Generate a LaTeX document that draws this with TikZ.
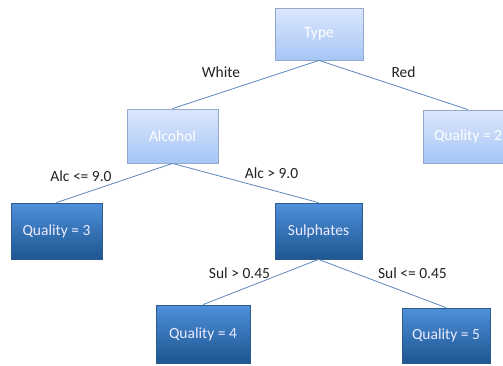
\documentclass[tikz,border=0pt]{standalone}
\usepackage{fontspec}
\setmainfont{Carlito}
\usetikzlibrary{shadings}
\definecolor{lighttop}{HTML}{DCE6FB}
\definecolor{lightbot}{HTML}{A6C6F6}
\definecolor{lightline}{HTML}{93A9CC}
\definecolor{darktop}{HTML}{4E90DB}
\definecolor{darkbot}{HTML}{1D5690}
\definecolor{darkline}{HTML}{2E5B8C}
\definecolor{edgecol}{HTML}{5E88BA}
\definecolor{labelcol}{HTML}{222222}
\tikzset{
  lightbox/.style={draw=lightline, line width=0.8pt, top color=lighttop, bottom color=lightbot,
    text=white, font=\fontsize{15.5}{18}\selectfont, inner sep=0pt},
  darkbox/.style={draw=darkline, line width=0.8pt, top color=darktop, bottom color=darkbot,
    text=white!92!blue, font=\fontsize{15.5}{18}\selectfont, inner sep=0pt},
  edge/.style={draw=edgecol, line width=0.8pt},
  elabel/.style={text=labelcol, font=\fontsize{15.5}{18}\selectfont, inner sep=0pt}
}
\begin{document}
\begin{tikzpicture}[x=1pt, y=-1pt]
  \clip (0,0) rectangle (503,365);
  \fill[white] (0,0) rectangle (503,365);
  % decision nodes and leaves
  \node[lightbox, minimum width=88pt, minimum height=52pt] (type) at (319,34) {Type};
  \node[lightbox, minimum width=91pt, minimum height=54pt] (alcohol) at (172.5,136) {Alcohol};
  \node[lightbox, minimum width=90pt, minimum height=53pt] (q2) at (468,136.5) {Quality = 2};
  \node[darkbox, minimum width=91pt, minimum height=56pt] (q3) at (56.5,231) {Quality = 3};
  \node[darkbox, minimum width=87pt, minimum height=56pt] (sulph) at (318.5,231) {Sulphates};
  \node[darkbox, minimum width=94pt, minimum height=58pt] (q4) at (203,334) {Quality = 4};
  \node[darkbox, minimum width=88pt, minimum height=55pt] (q5) at (446,335.5) {Quality = 5};
  % branches
  \draw[edge] (type.south) -- (alcohol.north);
  \draw[edge] (type.south) -- (q2.north);
  \draw[edge] (alcohol.south) -- (q3.north);
  \draw[edge] (alcohol.south) -- (sulph.north);
  \draw[edge] (sulph.south) -- (q4.north);
  \draw[edge] (sulph.south) -- (q5.north);
  % branch labels
  \node[elabel] (lwhite) at (221,72) {White};
  \node[elabel] (lred) at (403.5,72) {Red};
  \node[elabel] (lalcle) at (81,176) {Alc <= 9.0};
  \node[elabel] (lalcgt) at (271.5,173) {Alc > 9.0};
  \node[elabel] (lsulgt) at (239.5,273) {Sul > 0.45};
  \node[elabel] (lsulle) at (412.5,273) {Sul <= 0.45};
\end{tikzpicture}
\end{document}
